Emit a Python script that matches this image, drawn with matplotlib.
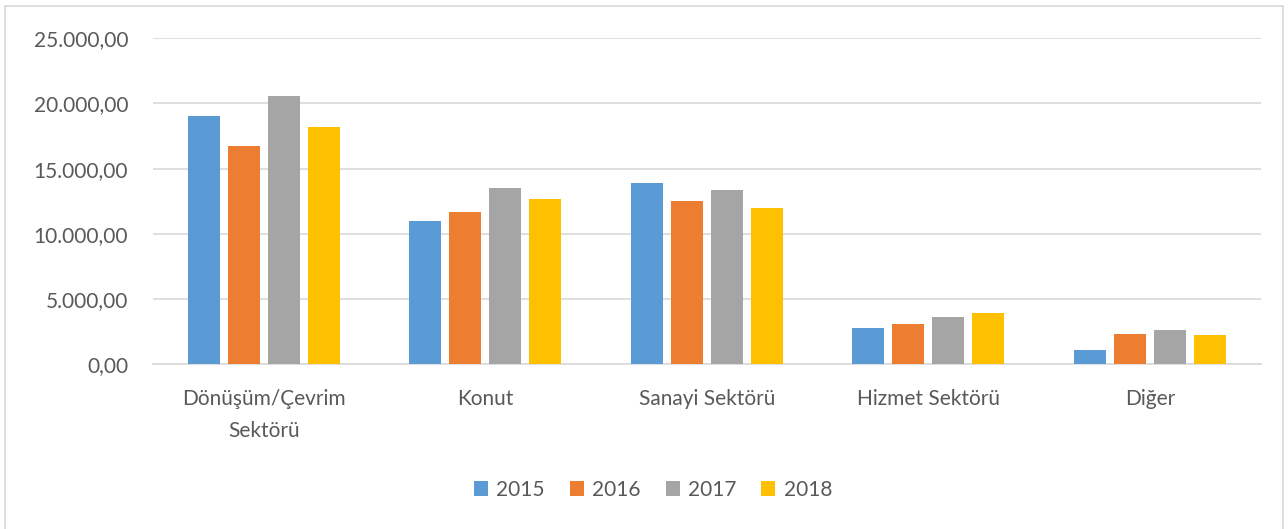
import matplotlib

matplotlib.use("Agg")
import matplotlib.pyplot as plt  # noqa: E402
import numpy as np  # noqa: E402
from matplotlib.patches import Rectangle  # noqa: E402
from matplotlib.ticker import FuncFormatter  # noqa: E402

sectors = ["Dönüşüm/Çevrim\nSektörü", "Konut", "Sanayi Sektörü", "Hizmet Sektörü", "Diğer"]
years = ["2015", "2016", "2017", "2018"]
v2015 = [19050, 11010, 13870, 2770, 1110]
v2016 = [16710, 11680, 12520, 3120, 2310]
v2017 = [20560, 13520, 13360, 3610, 2620]
v2018 = [18210, 12670, 12010, 3970, 2280]
series = [v2015, v2016, v2017, v2018]
colors = ["#5B9BD5", "#ED7D31", "#A5A5A5", "#FFC000"]

TEXT = "#595959"
GRID = "#D9D9D9"
FS = 15
plt.rcParams["font.family"] = ["Lato", "DejaVu Sans"]


def tr_number(v, _pos=None):
    s = f"{v:,.2f}"
    return s.replace(",", "X").replace(".", ",").replace("X", ".")


fig = plt.figure(figsize=(12.88, 5.29), dpi=100)
ax = fig.add_axes([0.1188, 0.311, 0.860, 0.617])

x = np.arange(len(sectors))
pitch, width = 0.1807, 0.1445
for i, (vals, col) in enumerate(zip(series, colors)):
    ax.bar(x + (i - 1.5) * pitch, vals, width=width, color=col, label=years[i], zorder=3)

ax.set_xlim(-0.5, len(sectors) - 0.5)
ax.set_ylim(0, 25000)
ax.set_yticks(np.arange(0, 25001, 5000))
ax.yaxis.set_major_formatter(FuncFormatter(tr_number))
ax.grid(axis="y", color=GRID, linewidth=1.2, zorder=0)
for side in ["top", "right", "left"]:
    ax.spines[side].set_visible(False)
ax.spines["bottom"].set_color(GRID)
ax.spines["bottom"].set_linewidth(1.2)
ax.tick_params(axis="both", length=0, colors=TEXT, labelsize=FS)
ax.tick_params(axis="y", pad=18)
ax.tick_params(axis="x", pad=18)
ax.set_xticks(x)
ax.set_xticklabels(sectors, linespacing=1.7)

fig.legend(
    loc="center", bbox_to_anchor=(0.507, 0.074), ncol=4, frameon=False,
    fontsize=FS, labelcolor=TEXT, handlelength=0.67, handleheight=0.67,
    handletextpad=0.4, columnspacing=1.2,
)
fig.patches.append(Rectangle((0.004, -0.01), 0.992, 0.999, transform=fig.transFigure,
                             fill=False, edgecolor=GRID, linewidth=1.2))

fig.savefig("out.png", dpi=100)
